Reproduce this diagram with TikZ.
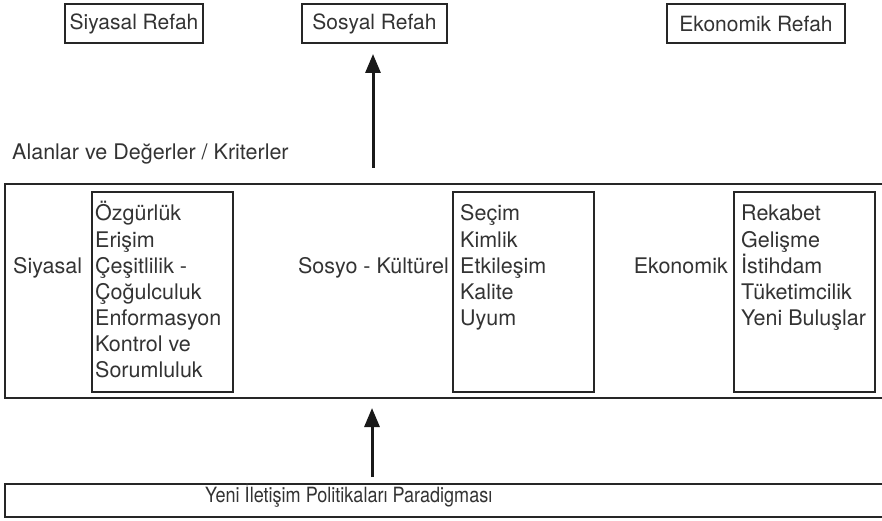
\documentclass[tikz,border=0pt]{standalone}
\usepackage{fontspec}
\setmainfont{TeX Gyre Heros}
\usetikzlibrary{arrows.meta}
\begin{document}
\begin{tikzpicture}[x=1pt,y=-1pt,
  txt/.style={font=\fontsize{21.5}{26}\selectfont, text=black!80, inner sep=0pt},
  topbox/.style={draw=black!85, line width=1.6pt, minimum height=39pt, inner sep=0pt, font=\fontsize{21}{26}\selectfont, text=black!80},
  ibox/.style={draw=black!85, line width=1.6pt, minimum width=141pt, minimum height=200pt, inner sep=0pt},
  frame/.style={draw=black!85, line width=1.6pt},
  bigarrow/.style={line width=3pt, draw=black!90, -{Triangle[length=19pt,width=15pt]}}
]
\useasboundingbox (0,0) rectangle (882,521);

% top boxes
\node[topbox, minimum width=138pt] (sr) at (134,23.5) {Siyasal Refah};
\node[topbox, minimum width=145pt] (sos) at (374.5,23.5) {Sosyal Refah};
\node[topbox, minimum width=178pt] (er) at (756,23.5) {Ekonomik Refah};

% caption
\node[txt, anchor=base west] (alan) at (12,160) {Alanlar ve Değerler / Kriterler};

% big frame (open to the right)
\coordinate (ftl) at (5,184);
\coordinate (ftr) at (883,184);
\coordinate (fbl) at (5,398);
\coordinate (fbr) at (883,398);
\draw[frame] (ftr) -- (ftl) -- (fbl) -- (fbr);

% inner boxes
\node[ibox] (b1) at (162.5,292) {};
\node[ibox] (b2) at (523.5,292) {};
\node[ibox] (b3) at (804.5,292) {};

% domain labels
\node[txt, anchor=base west] (lsiy) at (13,273) {Siyasal};
\node[txt, anchor=base east] (lsos) at (449,273) {Sosyo - Kültürel};
\node[txt, anchor=base east] (leko) at (728,273) {Ekonomik};

% lists
\foreach \t [count=\i] in {Özgürlük, Erişim, Çeşitlilik -, Çoğulculuk, Enformasyon, Kontrol ve, Sorumluluk}
  \node[txt, anchor=base west] (a\i) at (95,195+26*\i) {\t};
\foreach \t [count=\i] in {Seçim, Kimlik, Etkileşim, Kalite, Uyum}
  \node[txt, anchor=base west] (c\i) at (460,195+26*\i) {\t};
\foreach \t [count=\i] in {Rekabet, Gelişme, İstihdam, Tüketimcilik, Yeni Buluşlar}
  \node[txt, anchor=base west] (e\i) at (741,195+26*\i) {\t};

% bottom frame (open to the right)
\coordinate (btl) at (5,484);
\coordinate (btr) at (883,484);
\coordinate (bbl) at (5,517);
\coordinate (bbr) at (883,517);
\draw[frame] (btr) -- (btl) -- (bbl) -- (bbr);
\node[txt, font=\fontsize{21}{26}\selectfont, anchor=base west] (para) at (205,502) {\scalebox{0.86}[1]{Yeni İletişim Politikaları Paradigması}};

% arrows
\coordinate (up1s) at (373,168);
\coordinate (up1e) at (373,54);
\coordinate (up2s) at (372,477);
\coordinate (up2e) at (372,408);
\draw[bigarrow] (up1s) -- (up1e);
\draw[bigarrow] (up2s) -- (up2e);
\end{tikzpicture}
\end{document}
